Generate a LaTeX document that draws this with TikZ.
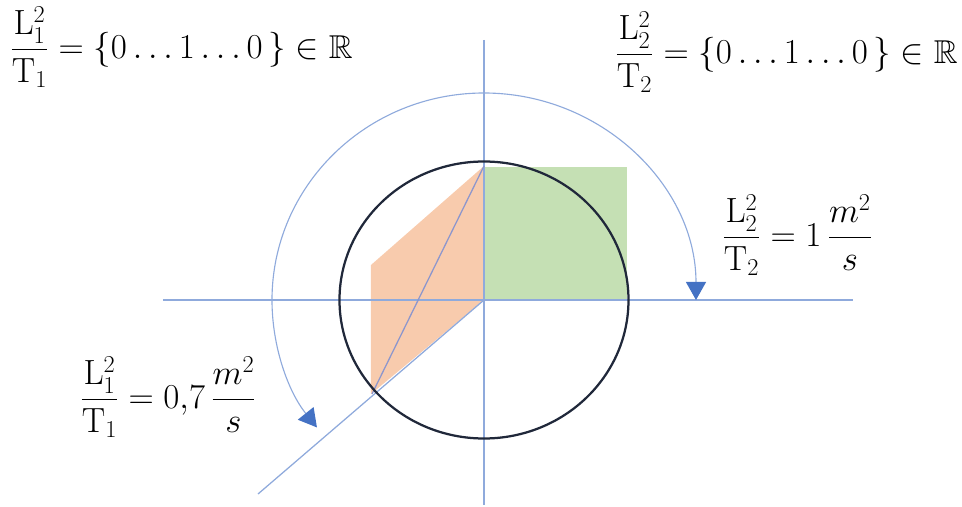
\documentclass[tikz,border=0pt]{standalone}
\usepackage{amsmath,amssymb}
\usepackage{tikz}
\usetikzlibrary{arrows.meta}
\definecolor{axisblue}{RGB}{143,170,220}
\definecolor{arrowblue}{RGB}{68,114,196}
\definecolor{ringnavy}{RGB}{32,40,58}
\definecolor{peach}{RGB}{248,203,173}
\definecolor{leaf}{RGB}{197,224,180}
\definecolor{diaggray}{RGB}{140,150,205}

\begin{document}
\begin{tikzpicture}[x=2.5mm,y=2.5mm,
  axis/.style={draw=axisblue,line width=0.9pt},
  turn/.style={draw=axisblue,line width=0.8pt,
    {Triangle[length=4.5mm,width=5mm,color=arrowblue]}-{Triangle[length=4.5mm,width=5mm,color=arrowblue]}},
  eqn/.style={font=\fontsize{23.5}{28}\selectfont,inner sep=0pt,anchor=west}]
\useasboundingbox (-48.4,-20.7) rectangle (47.8,30);
\begin{scope}
  \fill[peach] (0,13.4) -- (-11.3,3.5) -- (-11.3,-9.4) -- (0,0) -- cycle;
  \fill[leaf] (0.1,0) rectangle (14.3,13.3);
  \draw[axis] (0,26) -- (0,-20.5);
  \draw[axis] (-32.1,0) -- (36.9,0);
  \draw[axis] (0,0) -- (-22.6,-19.4);
  \draw[draw=diaggray,line width=0.9pt] (-11.2,-9.4) -- (0,13.4);
  \draw[ringnavy,line width=1.6pt] (0,0) ellipse [x radius=14.45,y radius=13.85];
  \draw[turn] (21.2,0) arc [start angle=0,end angle=218,x radius=21.2,y radius=20.7];
\end{scope}
\node[eqn] (ratioA) at (-47.4,25.3) {$\dfrac{\mathrm{L}_1^2}{\mathrm{T}_1}=\{0\ldots1\ldots0\,\}\in\mathbb{R}$};
\node[eqn] (ratioB) at (13.1,24.8) {$\dfrac{\mathrm{L}_2^2}{\mathrm{T}_2}=\{0\ldots1\ldots0\,\}\in\mathbb{R}$};
\node[eqn] (valueB) at (23.8,6.5) {$\dfrac{\mathrm{L}_2^2}{\mathrm{T}_2}=1\,\dfrac{m^2}{s}$};
\node[eqn] (valueA) at (-40.4,-9.7) {$\dfrac{\mathrm{L}_1^2}{\mathrm{T}_1}=0{,}7\,\dfrac{m^2}{s}$};
\end{tikzpicture}
\end{document}
